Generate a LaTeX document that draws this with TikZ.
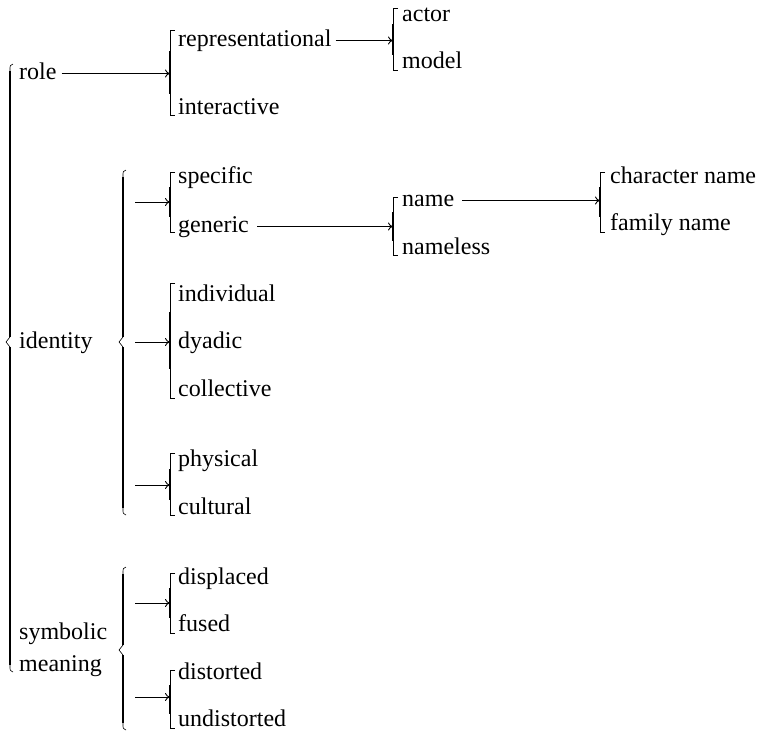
\documentclass[tikz,border=0pt]{standalone}
\usepackage{fontspec}
\setmainfont{Liberation Serif}
\usetikzlibrary{arrows.meta}

% curly brace: x, top, tip, bottom
\newcommand{\sysbrace}[4]{%
  \draw[line width=0.6pt] (#1+3,#2) .. controls (#1,#2+1) .. (#1,#2+7);
  \draw[line width=1.5pt] (#1,#2+7) -- (#1,#3-5);
  \draw[line width=0.6pt] (#1,#3-5) -- (#1-4,#3) -- (#1,#3+5);
  \draw[line width=1.5pt] (#1,#3+5) -- (#1,#4-7);
  \draw[line width=0.6pt] (#1,#4-7) .. controls (#1,#4-1) .. (#1+3,#4);
}
% square bracket: x, top, bottom
\newcommand{\sysgate}[3]{%
  \draw[line width=0.6pt] (#1+5,#2) -- (#1,#2) -- (#1,#3) -- (#1+5,#3);
  \draw[line width=1.6pt] (#1,{#2+0.25*(#3-#2)}) -- (#1,{#3-0.25*(#3-#2)});
}

\tikzset{
  lab/.style={anchor=base west, inner sep=0pt, text height=16pt, text depth=5pt,
    font=\fontsize{24}{28}\selectfont},
  arr/.style={-{To[length=5pt,width=8pt]}, line width=0.9pt}
}

\begin{document}
\begin{tikzpicture}[x=1pt,y=-1pt]
        \useasboundingbox (0,0) rectangle (759,732);

        % first column
        \node[lab] (role) at (19,79) {role};
        \node[lab] (identity) at (19,348) {identity};
        \node[lab] (symbolic) at (19,639) {symbolic};
        \node[lab] (meaning) at (19,671) {meaning};
        \sysbrace{10}{64}{342}{672}

        % role
        \node[lab] (representational) at (178,46) {representational};
        \node[lab] (interactive) at (178,114) {interactive};
        \coordinate (gRole) at (170,73);
        \sysgate{170}{30}{115}
        \draw[arr] ([xshift=5pt]role.east) -- (role.east -| gRole);

        \node[lab] (actor) at (402,21) {actor};
        \node[lab] (model) at (402,68) {model};
        \coordinate (gRep) at (393,38);
        \sysgate{393}{8}{70}
        \draw[arr] ([xshift=4pt]representational.east) -- (representational.east -| gRep);

        % identity
        \sysbrace{123}{170}{342}{515}

        \node[lab] (specific) at (178,183) {specific};
        \node[lab] (generic) at (178,232) {generic};
        \coordinate (sSpec) at (135,202);
        \coordinate (gSpec) at (170,202);
        \sysgate{170}{172}{232}
        \draw[arr] (sSpec) -- (gSpec);

        \node[lab] (name) at (402,206) {name};
        \node[lab] (nameless) at (402,254) {nameless};
        \coordinate (gGen) at (393,226);
        \sysgate{393}{197}{255}
        \draw[arr] ([xshift=8pt]generic.east) -- (generic.east -| gGen);

        \node[lab] (charname) at (610,183) {character name};
        \node[lab] (famname) at (610,230) {family name};
        \coordinate (gName) at (600,200);
        \sysgate{600}{172}{232}
        \draw[arr] ([xshift=8pt]name.east) -- (name.east -| gName);

        \node[lab] (individual) at (178,301) {individual};
        \node[lab] (dyadic) at (178,348) {dyadic};
        \node[lab] (collective) at (178,396) {collective};
        \coordinate (sInd) at (135,342);
        \coordinate (gInd) at (170,342);
        \sysgate{170}{283}{398}
        \draw[arr] (sInd) -- (gInd);

        \node[lab] (physical) at (178,466) {physical};
        \node[lab] (cultural) at (178,514) {cultural};
        \coordinate (sPhys) at (135,485);
        \coordinate (gPhys) at (170,485);
        \sysgate{170}{453}{515}
        \draw[arr] (sPhys) -- (gPhys);

        % symbolic meaning
        \sysbrace{123}{567}{650}{730}

        \node[lab] (displaced) at (178,584) {displaced};
        \node[lab] (fused) at (178,631) {fused};
        \coordinate (sDisp) at (135,603);
        \coordinate (gDisp) at (170,603);
        \sysgate{170}{573}{633}
        \draw[arr] (sDisp) -- (gDisp);

        \node[lab] (distorted) at (178,679) {distorted};
        \node[lab] (undistorted) at (178,726) {undistorted};
        \coordinate (sDist) at (135,697);
        \coordinate (gDist) at (170,697);
        \sysgate{170}{670}{728}
        \draw[arr] (sDist) -- (gDist);
\end{tikzpicture}
\end{document}
